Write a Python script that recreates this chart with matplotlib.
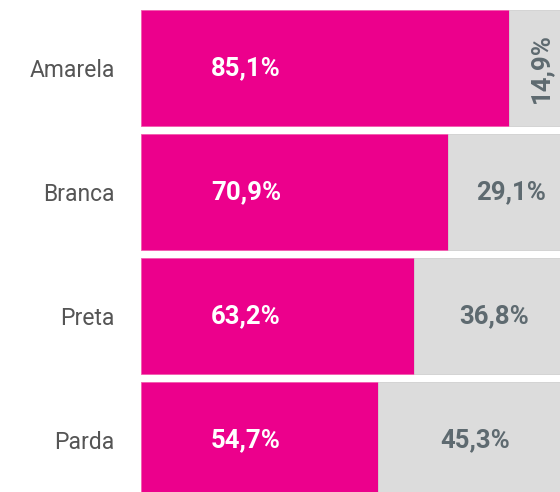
import matplotlib.pyplot as plt

# dados
categorias = ["Amarela", "Branca", "Preta", "Parda"]
rosa = [85.1, 70.9, 63.2, 54.7]
cinza = [14.9, 29.1, 36.8, 45.3]

cor_rosa = "#EC008C"
cor_cinza = "#DCDCDC"
cor_txt = "#5E6A70"

W, H = 560, 492
fig = plt.figure(figsize=(W / 100, H / 100), dpi=100)
# eixo maior que a figura: o grafico original esta cortado a direita e embaixo
x0, x1 = 141, 573.6
y0, y1 = 6, 502
ax = fig.add_axes([x0 / W, (H - y1) / H, (x1 - x0) / W, (y1 - y0) / H])

pos = list(range(len(categorias)))
alt = 116 / 124
ax.barh(pos, rosa, height=alt, color=cor_rosa, edgecolor="#F25AAE", linewidth=0.6)
ax.barh(pos, cinza, left=rosa, height=alt, color=cor_cinza, edgecolor="#D0D0D0", linewidth=0.6)

for i, (r, c) in enumerate(zip(rosa, cinza)):
    ax.text(24.3, i, f"{r:.1f}%".replace(".", ","), color="white", fontsize=18.5,
            fontweight="bold", ha="center", va="center", family="Roboto")
    rot = 90 if c < 20 else 0
    ax.text(r + c / 2, i, f"{c:.1f}%".replace(".", ","), color=cor_txt, fontsize=18.5,
            fontweight="bold", ha="center", va="center", rotation=rot, family="Roboto")

ax.set_xlim(0, 100)
ax.set_ylim(len(categorias) - 0.5, -0.5)
ax.set_yticks(pos)
ax.set_yticklabels(categorias, fontsize=16.5, color="#555555", family="Roboto")
for t in ax.get_yticklabels():
    t.set_va("center_baseline")
ax.tick_params(axis="y", length=0, pad=19)
ax.set_xticks([])
for s in ax.spines.values():
    s.set_visible(False)

fig.savefig("out.png", dpi=100)
